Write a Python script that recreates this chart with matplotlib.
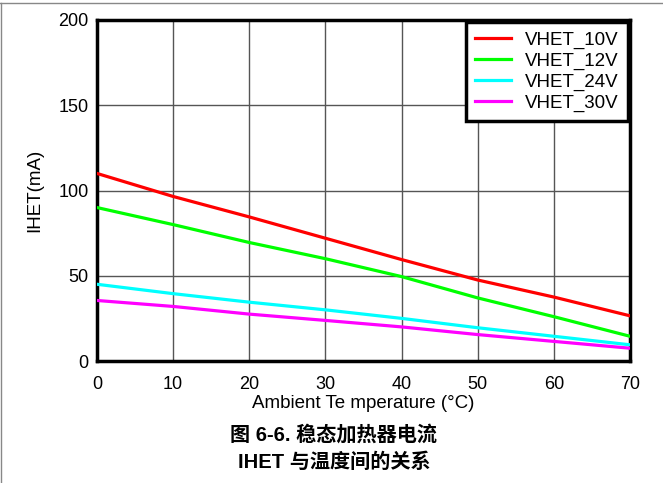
import matplotlib
matplotlib.use("Agg")
import matplotlib.pyplot as plt
from matplotlib.lines import Line2D

plt.rcParams['font.family'] = ['Liberation Sans', 'Noto Sans CJK SC', 'DejaVu Sans']

temps = [0, 10, 20, 30, 40, 50, 60, 70]
series_names = ["VHET_10V", "VHET_12V", "VHET_24V", "VHET_30V"]
vhet_10v = [110, 96.5, 84.5, 72, 59.5, 47.5, 37.5, 26.5]
vhet_12v = [90, 80, 69.5, 60, 49.5, 37, 26, 14.5]
vhet_24v = [45, 39.5, 34.5, 30, 25, 19.5, 14.5, 9.5]
vhet_30v = [35.5, 32, 27.5, 23.8, 20, 15.5, 11.5, 7.5]
colors = ["#ff0000", "#00ff00", "#00ffff", "#ff00ff"]
x_ticks = [0, 10, 20, 30, 40, 50, 60, 70]
y_ticks = [0, 50, 100, 150, 200]

fig = plt.figure(figsize=(6.63, 4.83), dpi=100)
ax = fig.add_axes([97/663, (483-361)/483, (630-97)/663, (361-20)/483])

for vals, c, name in zip([vhet_10v, vhet_12v, vhet_24v, vhet_30v], colors, series_names):
    ax.plot(temps, vals, color=c, lw=2.3, label=name, zorder=3)

ax.set_xlim(0, 70)
ax.set_ylim(0, 200)
ax.set_xticks(x_ticks)
ax.set_yticks(y_ticks)
ax.grid(True, color="#555555", lw=1.0)
ax.tick_params(length=0, labelsize=13)
ax.tick_params(axis="x", pad=11)
ax.tick_params(axis="y", pad=6)
for s in ax.spines.values():
    s.set_linewidth(2.5)
    s.set_color("black")

ax.set_xlabel("Ambient Te mperature (°C)", fontsize=13.5, labelpad=1)
ax.set_ylabel("IHET(mA)", fontsize=13.5, labelpad=11)

leg = ax.legend(loc="upper right", fontsize=13.5, frameon=True, fancybox=False,
                borderaxespad=0.1, handlelength=1.9, labelspacing=0.2,
                borderpad=0.5, handletextpad=0.75)
leg.get_frame().set_edgecolor("black")
leg.get_frame().set_linewidth(2.5)
leg.get_frame().set_alpha(1)

fig.text(334/663, 1 - 435/483, "图 6-6. 稳态加热器电流", ha="center", va="center",
         fontsize=14.5, fontweight="bold")
fig.text(334/663, 1 - 462/483, "IHET 与温度间的关系", ha="center", va="center",
         fontsize=14.5, fontweight="bold")

fig.add_artist(Line2D([0, 1], [1 - 3/483, 1 - 3/483], transform=fig.transFigure, color="#888888", lw=1))
fig.add_artist(Line2D([1/663, 1/663], [0, 1 - 3/483], transform=fig.transFigure, color="#888888", lw=1))

fig.savefig("out.png", dpi=100)
